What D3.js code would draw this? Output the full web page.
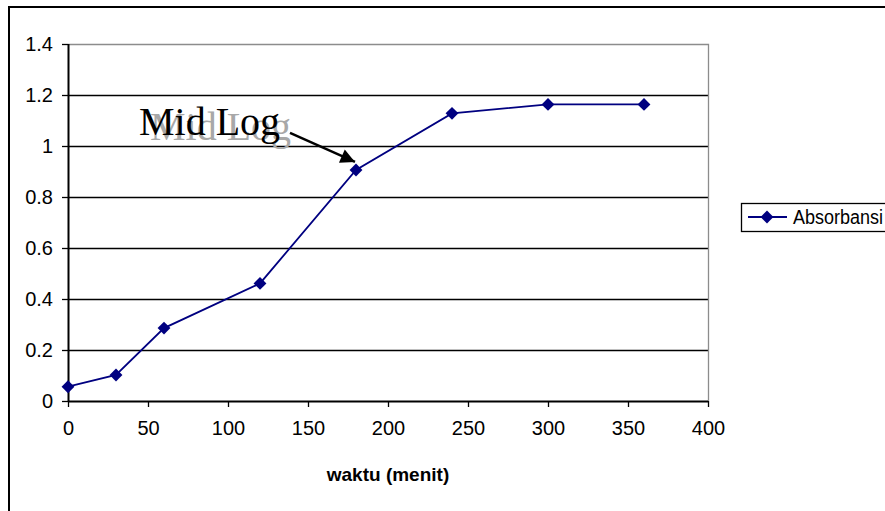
<!DOCTYPE html>
<html><head><meta charset="utf-8">
<script src="https://cdn.jsdelivr.net/npm/d3@7"></script>
<style>
html,body{margin:0;padding:0;background:#fff;overflow:hidden;}
svg{display:block;}
</style></head>
<body>
<svg id="chart" width="885" height="511"></svg>
<script>
const times = [0, 30, 60, 120, 180, 240, 300, 360];
const absorbansi = [0.056, 0.102, 0.286, 0.461, 0.906, 1.128, 1.163, 1.163];
const xTicks = [0, 50, 100, 150, 200, 250, 300, 350, 400];
const yTicks = [0, 0.2, 0.4, 0.6, 0.8, 1, 1.2, 1.4];
const seriesName = "Absorbansi";
const xTitle = "waktu (menit)";
const annotationText = "Mid Log";
const annotationIndex = 4;

const svg = d3.select("#chart");
const font = "'Liberation Sans', Arial, sans-serif";
const navy = "#000080";

// outer chart border
svg.append("rect").attr("x", 9).attr("y", 7).attr("width", 900).attr("height", 520)
  .attr("fill", "#fff").attr("stroke", "#000").attr("stroke-width", 2);

const x = d3.scaleLinear().domain([0, 400]).range([68, 708]);
const y = d3.scaleLinear().domain([0, 1.4]).range([401, 44]);

// gridlines
svg.append("g").selectAll("line").data(yTicks.filter(d => d > 0 && d < 1.4)).join("line")
  .attr("x1", x(0)).attr("x2", x(400))
  .attr("y1", d => Math.round(y(d)) + 0.5).attr("y2", d => Math.round(y(d)) + 0.5)
  .attr("stroke", "#000").attr("stroke-width", 1.3);

// plot area border (gray top/right)
svg.append("path")
  .attr("d", `M${x(0)},${y(1.4) + 0.5}H${x(400) + 0.5}V${y(0)}`)
  .attr("fill", "none").attr("stroke", "#8c8c8c").attr("stroke-width", 1.3);

// axes
const xAxis = svg.append("g").attr("transform", `translate(0,${y(0)})`)
  .call(d3.axisBottom(x).tickValues(xTicks).tickSize(6).tickPadding(14).tickFormat(d3.format("d")));
const yAxis = svg.append("g").attr("transform", `translate(${x(0)},0)`)
  .call(d3.axisLeft(y).tickValues(yTicks).tickSize(6).tickPadding(9).tickFormat(d => String(d)));
[xAxis, yAxis].forEach(g => {
  g.select(".domain").attr("stroke", "#000").attr("stroke-width", 2);
  g.selectAll(".tick line").attr("stroke", "#000").attr("stroke-width", 1.3);
  g.selectAll(".tick text").attr("font-family", font).attr("font-size", 20).attr("fill", "#000");
});
xAxis.select(".domain").attr("d", `M${x(0)},0.5H${x(400)}`);
yAxis.select(".domain").attr("d", `M0.5,${y(0)}V${y(1.4)}`);
xAxis.selectAll(".tick text").attr("dy", "0.71em");

// x axis title
svg.append("text").attr("x", (x(0) + x(400)) / 2).attr("y", 481)
  .attr("text-anchor", "middle").attr("font-family", font).attr("font-size", 19)
  .attr("font-weight", "bold").text(xTitle);

// series
const data = times.map((t, i) => ({ t, v: absorbansi[i] }));
svg.append("path").datum(data)
  .attr("d", d3.line().x(d => x(d.t)).y(d => y(d.v)))
  .attr("fill", "none").attr("stroke", navy).attr("stroke-width", 1.8);
const diamond = d3.symbol().type(d3.symbolDiamond2).size(105);
svg.append("g").selectAll("path").data(data).join("path")
  .attr("transform", d => `translate(${x(d.t)},${y(d.v)})`)
  .attr("d", diamond).attr("fill", navy);

// annotation
const ax = x(times[annotationIndex]), ay = y(absorbansi[annotationIndex]);
const serif = "'Liberation Serif', 'Times New Roman', serif";
svg.append("text").attr("x", ax - 206).attr("y", ay - 30)
  .attr("font-family", serif).attr("font-size", 40).attr("fill", "#a8a8a8").text(annotationText);
svg.append("text").attr("x", ax - 217).attr("y", ay - 35)
  .attr("font-family", serif).attr("font-size", 40).attr("fill", "#000").text(annotationText);
const defs = svg.append("defs");
defs.append("marker").attr("id", "ah").attr("viewBox", "0 0 10 10")
  .attr("refX", 10).attr("refY", 5).attr("markerWidth", 7).attr("markerHeight", 6)
  .attr("markerUnits", "strokeWidth").attr("orient", "auto")
  .append("path").attr("d", "M0,0L10,5L0,10Z").attr("fill", "#000");
svg.append("line").attr("x1", ax - 66).attr("y1", ay - 37).attr("x2", ax - 1).attr("y2", ay - 8)
  .attr("stroke", "#000").attr("stroke-width", 2.4).attr("marker-end", "url(#ah)");

// legend
const lg = svg.append("g");
lg.append("rect").attr("x", 741.5).attr("y", 203.5).attr("width", 200).attr("height", 28)
  .attr("fill", "#fff").attr("stroke", "#000").attr("stroke-width", 1.3);
lg.append("line").attr("x1", 748).attr("x2", 787).attr("y1", 217).attr("y2", 217)
  .attr("stroke", navy).attr("stroke-width", 1.8);
lg.append("path").attr("transform", "translate(767,217)").attr("d", diamond).attr("fill", navy);
lg.append("text").attr("x", 793).attr("y", 224).attr("font-family", font).attr("font-size", 19.5)
  .attr("textLength", 90).attr("lengthAdjust", "spacingAndGlyphs")
  .text(seriesName);
</script>
</body></html>
